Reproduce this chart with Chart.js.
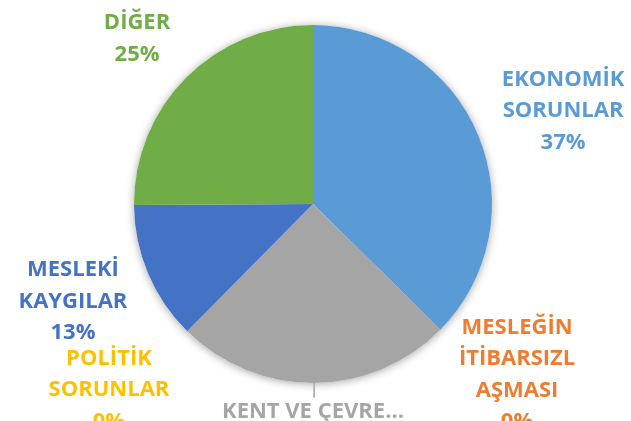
<!DOCTYPE html>
<html>
<head>
<meta charset="utf-8">
<script src="https://cdn.jsdelivr.net/npm/chart.js"></script>
<style>
  html, body { margin: 0; padding: 0; background: #fff; }
  #wrap { width: 631px; height: 421px; }
</style>
</head>
<body>
<div id="wrap"><canvas id="chart" width="631" height="421"></canvas></div>
<script>
// Kategoriler ve değerler (yüzde)
const categories = ["EKONOMİK SORUNLAR", "MESLEĞİN İTİBARSIZLAŞMASI", "KENT VE ÇEVRE SORUNLARI", "POLİTİK SORUNLAR", "MESLEKİ KAYGILAR", "DİĞER"];
const values = [37.4, 0, 25.0, 0, 12.5, 25.1];
const shownPercent = ["37%", "0%", "", "0%", "13%", "25%"];
// Etiket satırları (Excel'deki gibi kırılmış)
const labelLines = [
  ["EKONOMİK", "SORUNLAR"],
  ["MESLEĞİN", "İTİBARSIZL", "AŞMASI"],
  ["KENT VE ÇEVRE..."],
  ["POLİTİK", "SORUNLAR"],
  ["MESLEKİ", "KAYGILAR"],
  ["DİĞER"]
];

const colors = ["#5B9BD5", "#ED7D31", "#A5A5A5", "#FFC000", "#4472C4", "#70AD47"];
// etiket merkezinin pasta merkezine göre konumu (yarıçap cinsinden)
const labelPos = [[1.397, -0.53], [1.14, 0.944], [0, 1.15], [-1.14, 1.028], [-1.341, 0.534], [-0.983, -0.933]];
const lineH = 31.5;

// pastanın arkasına yumuşak gölge
const shadowPlugin = {
  id: "shadow",
  beforeDatasetsDraw(chart) {
    const arc = chart.getDatasetMeta(0).data[0];
    if (!arc) return;
    const ctx = chart.ctx;
    ctx.save();
    ctx.shadowColor = "rgba(0,0,0,0.35)";
    ctx.shadowBlur = 9;
    ctx.shadowOffsetY = 1;
    ctx.fillStyle = "#ffffff";
    ctx.beginPath();
    ctx.arc(arc.x, arc.y, arc.outerRadius, 0, Math.PI * 2);
    ctx.fill();
    ctx.restore();
  }
};

const labelPlugin = {
  id: "labels",
  afterDatasetsDraw(chart) {
    const ctx = chart.ctx;
    const meta = chart.getDatasetMeta(0);
    ctx.save();
    ctx.font = "bold 22px 'Open Sans'";
    ctx.textAlign = "center";
    ctx.textBaseline = "alphabetic";
    meta.data.forEach((arc, i) => {
      const r = arc.outerRadius;
      const lines = labelLines[i].slice();
      if (shownPercent[i]) lines.push(shownPercent[i]);
      const cx = arc.x + labelPos[i][0] * r;
      const cy = arc.y + labelPos[i][1] * r;
      const top = cy - (lines.length - 1) * lineH / 2;
      ctx.fillStyle = colors[i];
      lines.forEach((t, k) => {
        ctx.fillText(t, cx, top + k * lineH + 8);
      });
      // KENT VE ÇEVRE için kısa çizgi
      if (i === 2) {
        const mid = (arc.startAngle + arc.endAngle) / 2;
        const px = arc.x + Math.cos(mid) * r;
        const py = arc.y + Math.sin(mid) * r;
        ctx.strokeStyle = "#A5A5A5";
        ctx.lineWidth = 1.5;
        ctx.beginPath();
        ctx.moveTo(px, py);
        ctx.lineTo(px, top - 12);
        ctx.stroke();
      }
    });
    ctx.restore();
  }
};

new Chart(document.getElementById("chart").getContext("2d"), {
  type: "pie",
  data: {
    labels: categories,
    datasets: [{
      data: values,
      backgroundColor: colors,
      borderWidth: 0
    }]
  },
  options: {
    responsive: false,
    animation: false,
    layout: { padding: { top: 25, bottom: 38, left: 0, right: 5 } },
    plugins: {
      legend: { display: false },
      tooltip: { enabled: false }
    }
  },
  plugins: [shadowPlugin, labelPlugin]
});
</script>
</body>
</html>
